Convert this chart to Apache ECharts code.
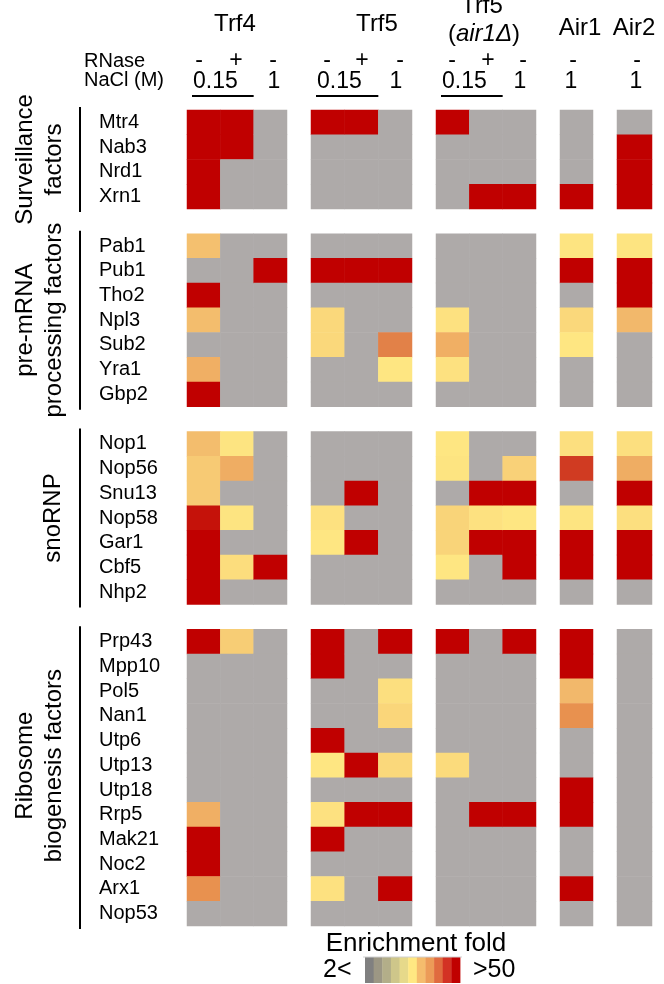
<!DOCTYPE html>
<html><head><meta charset="utf-8">
<script src="https://cdn.jsdelivr.net/npm/echarts@6/dist/echarts.min.js"></script>
<style>html,body{margin:0;padding:0;background:#fff}#c{width:664px;height:984px}</style>
</head><body><div id="c"></div>
<script>
// ---------------- DATA ----------------
const rowGroupTitles = ['Surveillance\nfactors', 'pre-mRNA\nprocessing factors', 'snoRNP', 'Ribosome\nbiogenesis factors'];
const surveillanceRows = ['Mtr4', 'Nab3', 'Nrd1', 'Xrn1'];
const preMRNARows = ['Pab1', 'Pub1', 'Tho2', 'Npl3', 'Sub2', 'Yra1', 'Gbp2'];
const snoRNPRows = ['Nop1', 'Nop56', 'Snu13', 'Nop58', 'Gar1', 'Cbf5', 'Nhp2'];
const ribosomeRows = ['Prp43', 'Mpp10', 'Pol5', 'Nan1', 'Utp6', 'Utp13', 'Utp18', 'Rrp5', 'Mak21', 'Noc2', 'Arx1', 'Nop53'];

const strains = ['Trf4', 'Trf5', 'Trf5', 'Air1', 'Air2'];
const rnaseTicks = [['-', '+', '-'], ['-', '+', '-'], ['-', '+', '-'], ['-'], ['-']];
const naclTicks = [['0.15', '1'], ['0.15', '1'], ['0.15', '1'], ['1'], ['1']];

// enrichment level per cell (0 = not enriched / grey, 5 = yellow ... 10 = >50 fold, dark red)
// order: Surveillance(4) | pre-mRNA(7) | snoRNP(7) | Ribosome biogenesis(12)
const trf4_minus_015 = [10,10,10,10,  5.83,0,10,5.9,0,6.25,10,  5.9,5.6,5.6,9.7,10,10,10,  10,0,0,0,0,0,0,6.25,10,10,7.05,0];
const trf4_plus_015  = [10,10,0,0,    0,0,0,0,0,0,0,            5.05,6.3,0,5.05,0,5.2,0,  5.55,0,0,0,0,0,0,0,0,0,0,0];
const trf4_minus_1   = [0,0,0,0,      0,10,0,0,0,0,0,           0,0,0,0,0,10,0,           0,0,0,0,0,0,0,0,0,0,0,0];
const trf5_minus_015 = [10,0,0,0,     0,10,0,5.3,5.3,0,0,       0,0,0,5.1,5.0,0,0,        10,10,0,0,10,5.0,0,5.1,10,0,5.1,0];
const trf5_plus_015  = [10,0,0,0,     0,10,0,0,0,0,0,           0,0,10,0,10,0,0,          0,0,0,0,0,10,0,10,0,0,0,0];
const trf5_minus_1   = [0,0,0,0,      0,10,0,0,7.7,5.0,0,       0,0,0,0,0,0,0,            10,0,5.15,5.35,0,5.3,0,10,0,0,10,0];
const air1d_minus_015= [10,0,0,0,     0,0,0,5.1,6.25,5.1,0,     5.0,5.05,0,5.4,5.4,5.0,0, 10,0,0,0,0,5.25,0,0,0,0,0,0];
const air1d_plus_015 = [0,0,0,10,     0,0,0,0,0,0,0,            0,0,10,5.1,10,0,0,        0,0,0,0,0,0,0,10,0,0,0,0];
const air1d_minus_1  = [0,0,0,10,     0,0,0,0,0,0,0,            0,5.45,10,5.0,10,10,0,    10,0,0,0,0,0,0,10,0,0,0,0];
const air1_minus_1   = [0,0,0,10,     5.05,10,0,5.3,5.0,0,0,    5.15,9.0,0,5.05,10,10,0,  10,10,6.0,7.05,0,0,10,10,0,0,10,0];
const air2_minus_1   = [0,10,10,10,   5.05,10,10,6.0,0,0,0,     5.15,6.3,10,5.15,10,10,0, 0,0,0,0,0,0,0,0,0,0,0,0];

// ---------------- LAYOUT / STYLE ----------------
const FONT = "'Liberation Sans', Arial, sans-serif";
const levelColors = ['#AEAAA9','#9C9784','#B3AE89','#CEC68A','#E6D98A','#FEE682','#F2B86B','#E8924F','#E07A45','#D03B22','#C00000'];
const legendColors = ['#808080','#9C9784','#B3AE89','#CEC68A','#E6D98A','#FFE882','#F5BC6D','#EC9B58','#E06B3F','#D33224','#C00000'];
const gridLeft = [187, 311, 436, 560, 617];
const gridWidth = [100, 101, 100, 33, 35];
const gridTop = 110, gridHeight = 816;

const groups = [surveillanceRows, preMRNARows, snoRNPRows, ribosomeRows];
const strainColumns = [
  [trf4_minus_015, trf4_plus_015, trf4_minus_1],
  [trf5_minus_015, trf5_plus_015, trf5_minus_1],
  [air1d_minus_015, air1d_plus_015, air1d_minus_1],
  [air1_minus_1],
  [air2_minus_1]
];

// y categories with a blank spacer row between groups
const yCats = [];
const rowToAxis = [];
const groupSpan = [];
groups.forEach((g, gi) => {
  const start = yCats.length;
  g.forEach(name => { rowToAxis.push(yCats.length); yCats.push(name); });
  groupSpan.push([start, yCats.length]);
  if (gi < groups.length - 1) yCats.push(' '.repeat(gi + 1));
});
const nY = yCats.length;
const rowH = gridHeight / nY;

const grids = [], xAxes = [], yAxes = [], series = [];
strainColumns.forEach((cols, si) => {
  grids.push({ left: gridLeft[si], width: gridWidth[si], top: gridTop, height: gridHeight, containLabel: false });
  xAxes.push({ type: 'category', gridIndex: si, data: cols.map((c, i) => String(i)), show: false });
  yAxes.push({
    type: 'category', gridIndex: si, data: yCats, inverse: true,
    axisLine: { show: false }, axisTick: { show: false }, splitLine: { show: false },
    axisLabel: {
      show: si === 0, align: 'left', margin: 88, fontFamily: FONT, fontSize: 20, color: '#000',
      interval: 0, formatter: v => v.trim()
    }
  });
  const data = [];
  cols.forEach((col, ci) => col.forEach((v, ri) => data.push([ci, rowToAxis[ri], v])));
  series.push({
    type: 'heatmap', xAxisIndex: si, yAxisIndex: si, data: data,
    itemStyle: { borderWidth: 0 }, emphasis: { disabled: true }, progressive: 0
  });
});

// ---------------- GRAPHICS (labels) ----------------
const g = [];
const txt = (x, y, text, size, extra) => g.push(Object.assign({
  type: 'text', x: x, y: y,
  style: Object.assign({ text: text, fontFamily: FONT, fontSize: size, fill: '#000', align: 'center', verticalAlign: 'middle' }, extra || {})
}));

// strain headers
const headerX = [235, 377, 482, 580, 634];
const headerY = [24, 24, 6, 28.5, 28.5];
strains.forEach((s, i) => txt(headerX[i], headerY[i], s, 24));
g.push({ type: 'text', x: 484, y: 34, style: {
  text: '({i|air1Δ})', fontFamily: FONT, fontSize: 24, fill: '#000', align: 'center', verticalAlign: 'middle',
  rich: { i: { fontStyle: 'italic', fontFamily: FONT, fontSize: 24, fill: '#000' } } } });

txt(84, 61.5, 'RNase', 20, { align: 'left' });
txt(84, 80, 'NaCl (M)', 20, { align: 'left' });

const signX = [[199, 236, 273], [327, 362, 400], [452, 488, 523], [573], [637]];
rnaseTicks.forEach((t, si) => t.forEach((s, k) => txt(signX[si][k], 61, s, 23)));
const naclX = [[193, 274], [317, 396], [442, 520], [571], [636]];
naclTicks.forEach((t, si) => t.forEach((s, k) => {
  if (s === '0.15') {
    txt(naclX[si][k], 81.5, s, 23, { align: 'left' });
    const x0 = gridLeft[si] + 5, x1 = gridLeft[si] + gridWidth[si] * 2 / 3;
    g.push({ type: 'line', shape: { x1: x0, y1: 96, x2: x1, y2: 96 }, style: { stroke: '#000', lineWidth: 2 } });
  } else {
    txt(naclX[si][k], 81.5, s, 23);
  }
}));

// row group brackets and titles
const titleX = [40, 40, 53, 40];
groupSpan.forEach(([a, b], gi) => {
  const y0 = gridTop + a * rowH - 3, y1 = gridTop + b * rowH + 3;
  g.push({ type: 'line', shape: { x1: 80, y1: y0, x2: 80, y2: y1 }, style: { stroke: '#000', lineWidth: 2 } });
  g.push({ type: 'text', x: titleX[gi], y: (y0 + y1) / 2 - (gi === 3 ? 12 : 0), rotation: Math.PI / 2,
    style: { text: rowGroupTitles[gi], fontFamily: FONT, fontSize: 24, lineHeight: 29, fill: '#000', align: 'center', verticalAlign: 'middle' } });
});

// colour key
txt(416, 944, 'Enrichment fold', 26);
txt(323, 970, '2<', 25, { align: 'left' });
txt(473, 970, '>50', 25, { align: 'left' });
const swL = 365, swW = 95 / legendColors.length;
legendColors.forEach((c, i) => g.push({ type: 'rect', shape: { x: swL + i * swW, y: 957, width: swW + 0.4, height: 26 }, style: { fill: c } }));
g.push({ type: 'line', shape: { x1: swL - 2, y1: 957, x2: swL + 97, y2: 957 }, style: { stroke: '#D0D0D0', lineWidth: 1 } });

const chart = echarts.init(document.getElementById('c'), null, { renderer: 'canvas' });
chart.setOption({
  animation: false,
  backgroundColor: '#fff',
  grid: grids, xAxis: xAxes, yAxis: yAxes,
  visualMap: { type: 'continuous', show: false, min: 0, max: 10, dimension: 2, seriesIndex: [0,1,2,3,4], inRange: { color: levelColors } },
  series: series,
  graphic: g
});
</script></body></html>
